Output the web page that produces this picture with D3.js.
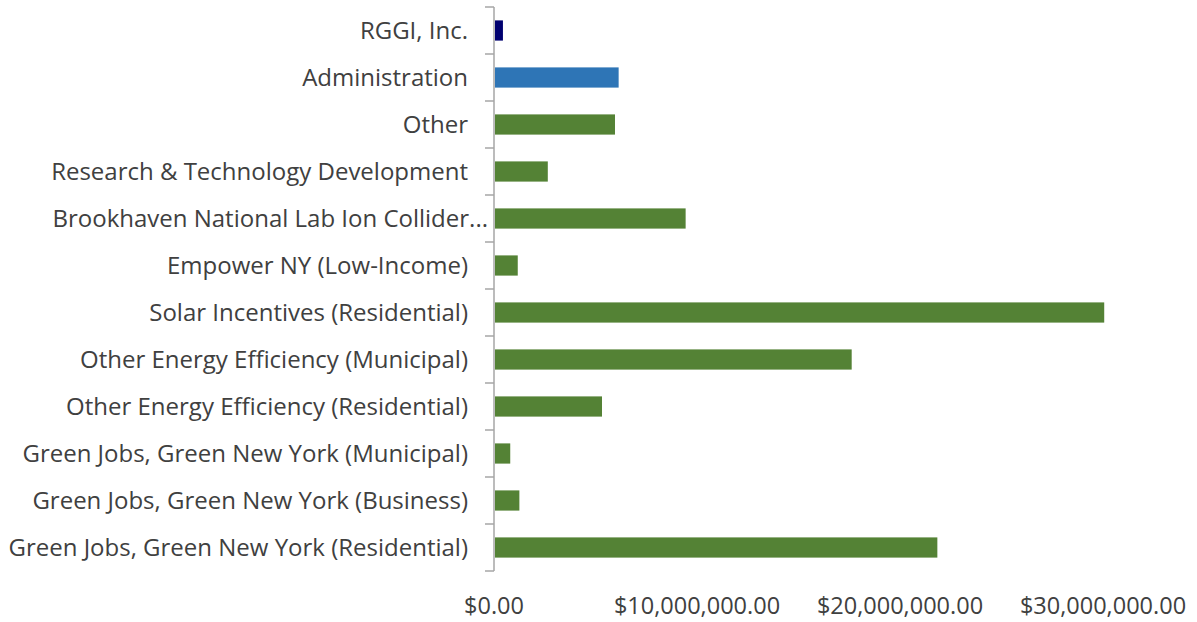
<!DOCTYPE html>
<html>
<head>
<meta charset="utf-8">
<script src="https://cdn.jsdelivr.net/npm/d3@7"></script>
<style>
  html, body { margin: 0; padding: 0; background: #fff; }
  svg { display: block; }
  text { font-family: "Open Sans", "Noto Sans", sans-serif; fill: #404040; }
</style>
</head>
<body>
<svg id="chart" width="1197" height="622"></svg>
<script>
// Program categories, top to bottom
const categories = [
  "RGGI, Inc.",
  "Administration",
  "Other",
  "Research & Technology Development",
  "Brookhaven National Lab Ion Collider...",
  "Empower NY (Low-Income)",
  "Solar Incentives (Residential)",
  "Other Energy Efficiency (Municipal)",
  "Other Energy Efficiency (Residential)",
  "Green Jobs, Green New York (Municipal)",
  "Green Jobs, Green New York (Business)",
  "Green Jobs, Green New York (Residential)"
];

// Funding amounts in dollars
const amounts = [
  440000,
  6140000,
  5960000,
  2650000,
  9440000,
  1170000,
  30060000,
  17620000,
  5320000,
  800000,
  1250000,
  21840000
];

// Bar fill group per category
const groups = [
  "rggi", "admin", "program", "program", "program", "program",
  "program", "program", "program", "program", "program", "program"
];

const xTicks = [0, 10000000, 20000000, 30000000];

const colors = { rggi: "#000070", admin: "#2e75b6", program: "#548235" };

const svg = d3.select("#chart");
const margin = { left: 494, top: 7, right: 94, bottom: 51 };
const W = 1197, H = 622;

const x = d3.scaleLinear()
  .domain([0, 30000000])
  .range([margin.left, W - margin.right]);

const y = d3.scaleBand()
  .domain(categories)
  .range([margin.top, H - margin.bottom])
  .paddingInner(0.57)
  .paddingOuter(0.285);

// Bars
svg.append("g")
  .selectAll("rect")
  .data(categories)
  .join("rect")
  .attr("x", x(0) + 1)
  .attr("y", d => y(d))
  .attr("width", (d, i) => x(amounts[i]) - x(0) - 1)
  .attr("height", y.bandwidth())
  .attr("fill", (d, i) => colors[groups[i]]);

// Vertical category axis with boundary ticks
const axisG = svg.append("g");
axisG.append("line")
  .attr("x1", x(0)).attr("x2", x(0))
  .attr("y1", margin.top).attr("y2", H - margin.bottom)
  .attr("stroke", "#a6a6a6").attr("stroke-width", 1.5);

const boundaries = d3.range(categories.length + 1).map(i => margin.top + i * (H - margin.top - margin.bottom) / categories.length);
axisG.selectAll("line.tick")
  .data(boundaries)
  .join("line")
  .attr("class", "tick")
  .attr("x1", x(0) - 9).attr("x2", x(0))
  .attr("y1", d => d).attr("y2", d => d)
  .attr("stroke", "#a6a6a6").attr("stroke-width", 1.5);

// Category labels; truncated names let the ellipsis run into the gap
svg.append("g")
  .selectAll("text")
  .data(categories)
  .join("text")
  .attr("x", d => x(0) - (d.endsWith("...") ? 6 : 26))
  .attr("y", d => y(d) + y.bandwidth() / 2)
  .attr("dy", "0.35em")
  .attr("text-anchor", "end")
  .style("font-size", "24px")
  .text(d => d);

// Value axis labels
const fmt = d3.format("$,.2f");
svg.append("g")
  .selectAll("text")
  .data(xTicks)
  .join("text")
  .attr("x", d => x(d))
  .attr("y", 606)
  .attr("dy", "0.35em")
  .attr("text-anchor", "middle")
  .style("font-size", "23.5px")
  .text(d => fmt(d));
</script>
</body>
</html>
